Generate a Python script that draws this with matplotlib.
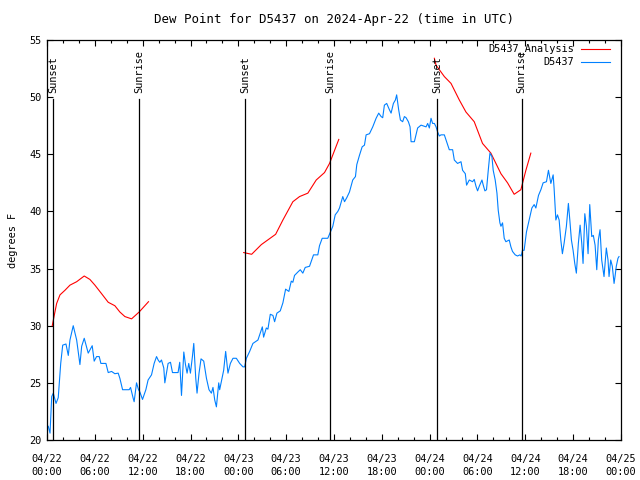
import matplotlib
matplotlib.use("Agg")
import matplotlib.pyplot as plt
from matplotlib.lines import Line2D

# hours since 2024-04-22 00:00 UTC
obs_hours = [0.16, 0.38, 0.59, 0.79, 1.13, 1.41, 1.72, 1.97, 2.38, 2.67, 2.88, 3.29, 3.72, 4.13, 4.35,
             4.67, 5.17, 5.67, 5.92, 6.22, 6.55, 6.76, 7.39, 7.68, 8.10, 8.51, 8.93, 9.14, 9.48, 10.31,
             10.48, 10.81, 10.93, 11.23, 11.48, 11.65, 11.98, 12.40, 12.68, 13.11, 13.44, 13.74, 13.94,
             14.15, 14.36, 14.65, 14.78, 14.99, 15.19, 15.49, 15.74, 16.24, 16.44, 16.65, 16.87, 17.16,
             17.37, 17.57, 17.78, 17.99, 18.24, 18.41, 18.66, 18.82, 19.07, 19.32, 19.66, 20.00, 20.32,
             20.62, 20.82, 21.04, 21.25, 21.54, 21.66, 21.95, 22.16, 22.41, 22.70, 23.00, 23.33, 23.75,
             24.17, 24.58, 24.79, 25.01, 25.42, 25.83, 26.46, 27.01, 27.17, 27.51, 27.71, 28.01, 28.34,
             28.55, 28.84, 29.26, 29.59, 29.93, 30.34, 30.64, 30.84, 31.05, 31.47, 31.77, 32.09, 32.39,
             32.93, 33.43, 33.97, 34.18, 34.52, 35.22, 35.52, 35.85, 36.15, 36.48, 36.69, 37.10, 37.32,
             37.60, 37.94, 38.35, 38.69, 38.86, 39.19, 39.53, 39.82, 40.03, 40.45, 40.86, 41.28, 41.61,
             41.91, 42.11, 42.32, 42.61, 42.95, 43.16, 43.45, 43.70, 43.86, 44.11, 44.33, 44.61, 44.83,
             45.04, 45.33, 45.54, 45.67, 46.08, 46.29, 46.49, 46.92, 47.55, 47.75, 47.96, 48.17, 48.37,
             48.59, 48.80, 49.00, 49.21, 49.42, 49.84, 50.13, 50.46, 50.88, 51.09, 51.50, 51.93, 52.13,
             52.47, 52.63, 52.97, 53.38, 53.59, 53.81, 54.01, 54.22, 54.56, 54.72, 54.93, 55.13, 55.35,
             55.56, 55.81, 55.97, 56.22, 56.44, 56.60, 56.81, 56.94, 57.14, 57.35, 57.56, 57.98, 58.19,
             58.39, 58.73, 59.02, 59.32, 59.48, 59.64, 59.85, 60.14, 60.48, 60.82, 61.11, 61.32, 61.65,
             61.95, 62.23, 62.65, 62.90, 63.20, 63.49, 63.61, 63.83, 64.03, 64.24, 64.45, 64.65, 64.86,
             65.15, 65.40, 65.58, 65.78, 65.99, 66.20, 66.40, 66.65, 66.87, 67.08, 67.24, 67.46, 67.66,
             67.87, 68.08, 68.33, 68.53, 68.75, 68.96, 69.16, 69.37, 69.58, 69.87, 70.16, 70.37, 70.50,
             70.71, 70.91, 71.13, 71.25, 71.41, 71.62, 71.75]
obs_dewpt = [21.2, 20.6, 23.8, 24.1, 23.2, 23.7, 26.7, 28.3, 28.4, 27.4, 28.75, 30.0, 28.75, 26.6, 28.2,
             28.9, 27.6, 28.25, 26.9, 27.3, 27.3, 26.7, 26.7, 25.9, 26.0, 25.8, 25.85, 25.4, 24.4, 24.4,
             24.6, 23.65, 23.35, 25.0, 24.4, 24.2, 23.55, 24.4, 25.25, 25.7, 26.7, 27.3, 27.0,
             26.8, 27.0, 26.3, 25.0, 25.9, 26.7, 26.8, 25.9, 25.9, 25.9, 26.8, 23.9, 27.7,
             26.6, 25.85, 26.7, 25.85, 27.3, 28.45, 25.4, 24.1, 25.85, 27.1, 26.9, 25.4, 24.4,
             24.1, 24.6, 23.5, 22.9, 25.0, 24.4, 25.4, 26.1, 27.75, 25.85, 26.7, 27.15, 27.15,
             26.7, 26.4, 26.4, 27.15, 27.75, 28.45, 28.75, 29.9, 29.0, 29.8, 29.7, 31.0, 30.9,
             30.35, 31.1, 31.3, 32.0, 33.2, 33.0, 33.9, 33.8, 34.4, 34.7, 34.9, 34.6, 35.1,
             35.2, 36.2, 36.2, 37.0, 37.65, 37.65, 38.15, 38.7, 39.7, 40.0, 40.3, 41.3, 40.85,
             41.2, 41.7, 42.75, 43.05, 44.1, 44.9, 45.65, 45.8, 46.7, 46.8, 47.4, 48.15, 48.6,
             48.3, 48.2, 49.3, 49.45, 48.9, 48.6, 49.45, 49.75, 50.2, 48.9, 48.0, 47.85, 48.3,
             48.2, 47.85, 47.4, 46.1, 46.1, 46.7, 47.3, 47.55, 47.4, 47.7, 47.3, 48.15, 47.7,
             47.7, 47.4, 46.95, 46.6, 46.7, 46.7, 46.1, 45.4, 45.4, 44.5, 44.2, 44.35, 43.6,
             43.3, 42.3, 42.75, 42.6, 42.8, 42.2, 41.8, 42.2, 42.75, 42.3, 41.8, 41.9, 43.6,
             45.1, 44.8, 43.6, 42.75, 41.6, 40.1, 39.0, 38.7, 39.0, 37.65, 37.35, 37.5, 36.9,
             36.5, 36.2, 36.1, 36.2, 36.1, 36.6, 36.6, 38.2, 39.25, 40.3, 40.6, 40.3, 41.4,
             41.9, 42.5, 42.6, 43.6, 42.45, 43.2, 42.0, 39.25, 39.7, 39.25, 37.5, 36.3, 37.2,
             38.7, 40.7, 39.25, 37.5, 36.6, 35.45, 34.6, 37.2, 38.8, 37.2, 35.45, 39.8, 38.7,
             36.3, 40.6, 37.8, 37.9, 37.05, 34.9, 37.5, 38.4, 35.75, 34.3, 36.8, 35.75, 34.3,
             35.75, 35.2, 33.7, 34.3, 35.2, 35.9, 36.05]

ana1_hours = [0.66, 0.88, 1.21, 1.63, 2.25, 2.88, 3.72, 4.67, 5.38, 6.01, 6.85, 7.68, 8.51, 9.14, 9.77,
              10.61, 11.56, 12.73]
ana1_dewpt = [30.0, 30.8, 31.95, 32.7, 33.1, 33.55, 33.85, 34.35, 34.05, 33.55, 32.8, 32.05, 31.75, 31.2,
              30.8, 30.6, 31.2, 32.1]
ana2_hours = [24.67, 25.67, 26.89, 28.68, 29.59, 30.84, 31.68, 32.72, 33.77, 34.81, 35.44, 36.60]
ana2_dewpt = [36.4, 36.25, 37.1, 38.0, 39.25, 40.85, 41.3, 41.6, 42.75, 43.4, 44.2, 46.3]
ana3_hours = [48.59, 48.80, 49.84, 50.68, 51.72, 52.55, 53.59, 54.63, 55.68, 56.94, 57.77, 58.60, 59.44,
              60.07, 60.69]
ana3_dewpt = [53.4, 52.8, 51.8, 51.2, 49.75, 48.7, 47.85, 45.95, 45.1, 43.3, 42.5, 41.5, 41.9, 43.6, 45.1]

sun_hours = [0.79, 11.57, 24.85, 35.5, 48.9, 59.55]
sun_labels = ["Sunset", "Sunrise", "Sunset", "Sunrise", "Sunset", "Sunrise"]

tick_hours = [0, 6, 12, 18, 24, 30, 36, 42, 48, 54, 60, 66, 72]
tick_labels = ["04/22\n00:00", "04/22\n06:00", "04/22\n12:00", "04/22\n18:00",
               "04/23\n00:00", "04/23\n06:00", "04/23\n12:00", "04/23\n18:00",
               "04/24\n00:00", "04/24\n06:00", "04/24\n12:00", "04/24\n18:00",
               "04/25\n00:00"]

plt.rcParams['font.family'] = 'DejaVu Sans Mono'
plt.rcParams['font.size'] = 7.4

red = '#ff0000'
blue = '#0080ff'

fig = plt.figure(figsize=(6.4, 4.8), dpi=100)
ax = fig.add_axes([47/640, 40/480, (621-47)/640, (440-40)/480])

ax.plot(ana1_hours, ana1_dewpt, color=red, lw=0.8)
ax.plot(ana2_hours, ana2_dewpt, color=red, lw=0.8)
ax.plot(ana3_hours, ana3_dewpt, color=red, lw=0.8)
ax.plot(obs_hours, obs_dewpt, color=blue, lw=0.8)

for h, lab in zip(sun_hours, sun_labels):
    ax.plot([h, h], [20, 49.8], color='black', lw=0.9)
    ax.text(h, 50.4, lab, rotation=90, ha='center', va='bottom')

ax.set_xlim(0, 72)
ax.set_ylim(20, 55)
ax.set_xticks(tick_hours)
ax.set_xticklabels(tick_labels, linespacing=1.45)
ax.set_xticks(range(0, 73, 2), minor=True)
ax.set_yticks(range(20, 56, 5))
ax.tick_params(which='both', direction='in', top=True, right=True, width=0.8)
ax.tick_params(which='major', length=4, pad=4)
ax.tick_params(axis='x', which='major', pad=10)
ax.tick_params(which='minor', length=2.5)
for s in ax.spines.values():
    s.set_linewidth(0.9)

ax.set_ylabel('degrees F', labelpad=8)
ax.set_title('Dew Point for D5437 on 2024-Apr-22 (time in UTC)', pad=12)

# key, drawn in the gnuplot way: right-aligned text with a line sample
fig.text(574/640, 1 - 49/480, 'D5437_Analysis', ha='right', va='center')
fig.text(574/640, 1 - 62/480, 'D5437', ha='right', va='center')
fig.add_artist(Line2D([581/640, 610/640], [1 - 49/480, 1 - 49/480], color=red, lw=0.8))
fig.add_artist(Line2D([581/640, 610/640], [1 - 62/480, 1 - 62/480], color=blue, lw=0.8))

fig.savefig('out.png', dpi=100)
